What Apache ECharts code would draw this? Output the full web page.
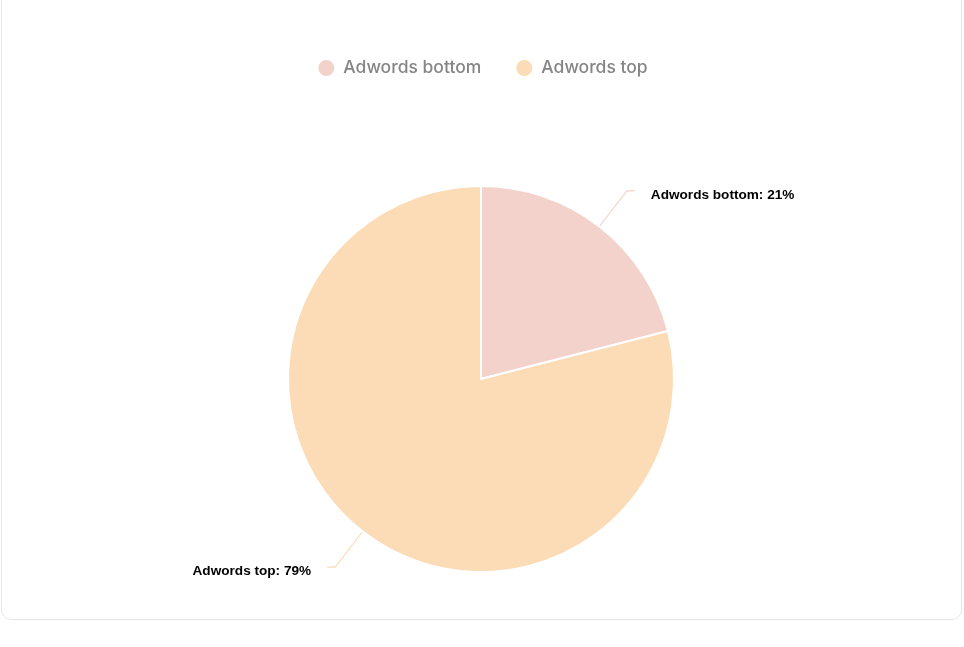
<!DOCTYPE html>
<html>
<head>
<meta charset="utf-8">
<script src="https://cdn.jsdelivr.net/npm/echarts@6/dist/echarts.min.js"></script>
<style>
html,body{margin:0;padding:0;background:#fff;width:964px;height:647px;overflow:hidden;}
#card{position:absolute;left:1px;top:-12px;width:961px;height:632px;border:1px solid #e6e6e6;border-radius:10px;box-sizing:border-box;}
#chart{position:absolute;left:0;top:0;width:964px;height:647px;}
</style>
</head>
<body>
<div id="card"></div>
<div id="chart"></div>
<script>
const categories = ['Adwords bottom', 'Adwords top'];
const values = [21, 79];
const colors = ['#F4D2CC', '#FBDCB6'];

const chart = echarts.init(document.getElementById('chart'), null, {renderer: 'canvas'});
chart.setOption({
  animation: false,
  color: colors,
  legend: {
    top: 53,
    left: 'center',
    icon: 'circle',
    itemWidth: 18,
    itemHeight: 18,
    itemGap: 33,
    textStyle: {color: '#858585', fontSize: 17.5, fontFamily: 'Inter', fontWeight: 500, padding: [0, 0, 0, 3]},
    data: categories
  },
  series: [{
    type: 'pie',
    center: [481, 379],
    radius: [0, 193],
    startAngle: 90,
    clockwise: true,
    itemStyle: {borderColor: '#ffffff', borderWidth: 2},
    label: {
      show: true,
      formatter: '{t|{b}: {c}%}',
      color: '#000',
      fontSize: 13.6,
      fontWeight: 'bold',
      fontFamily: 'Liberation Sans, Arial, sans-serif',
      distanceToLabelLine: 16,
      rich: {
        t: {
          color: '#000',
          fontSize: 13.6,
          fontWeight: 'bold',
          fontFamily: 'Liberation Sans, Arial, sans-serif',
          padding: [8, 0, 0, 0]
        }
      }
    },
    labelLine: {show: true, length: 45, length2: 8, lineStyle: {width: 1.2}},
    emphasis: {disabled: true},
    data: categories.map((c, i) => ({name: c, value: values[i]}))
  }]
});
</script>
</body>
</html>
